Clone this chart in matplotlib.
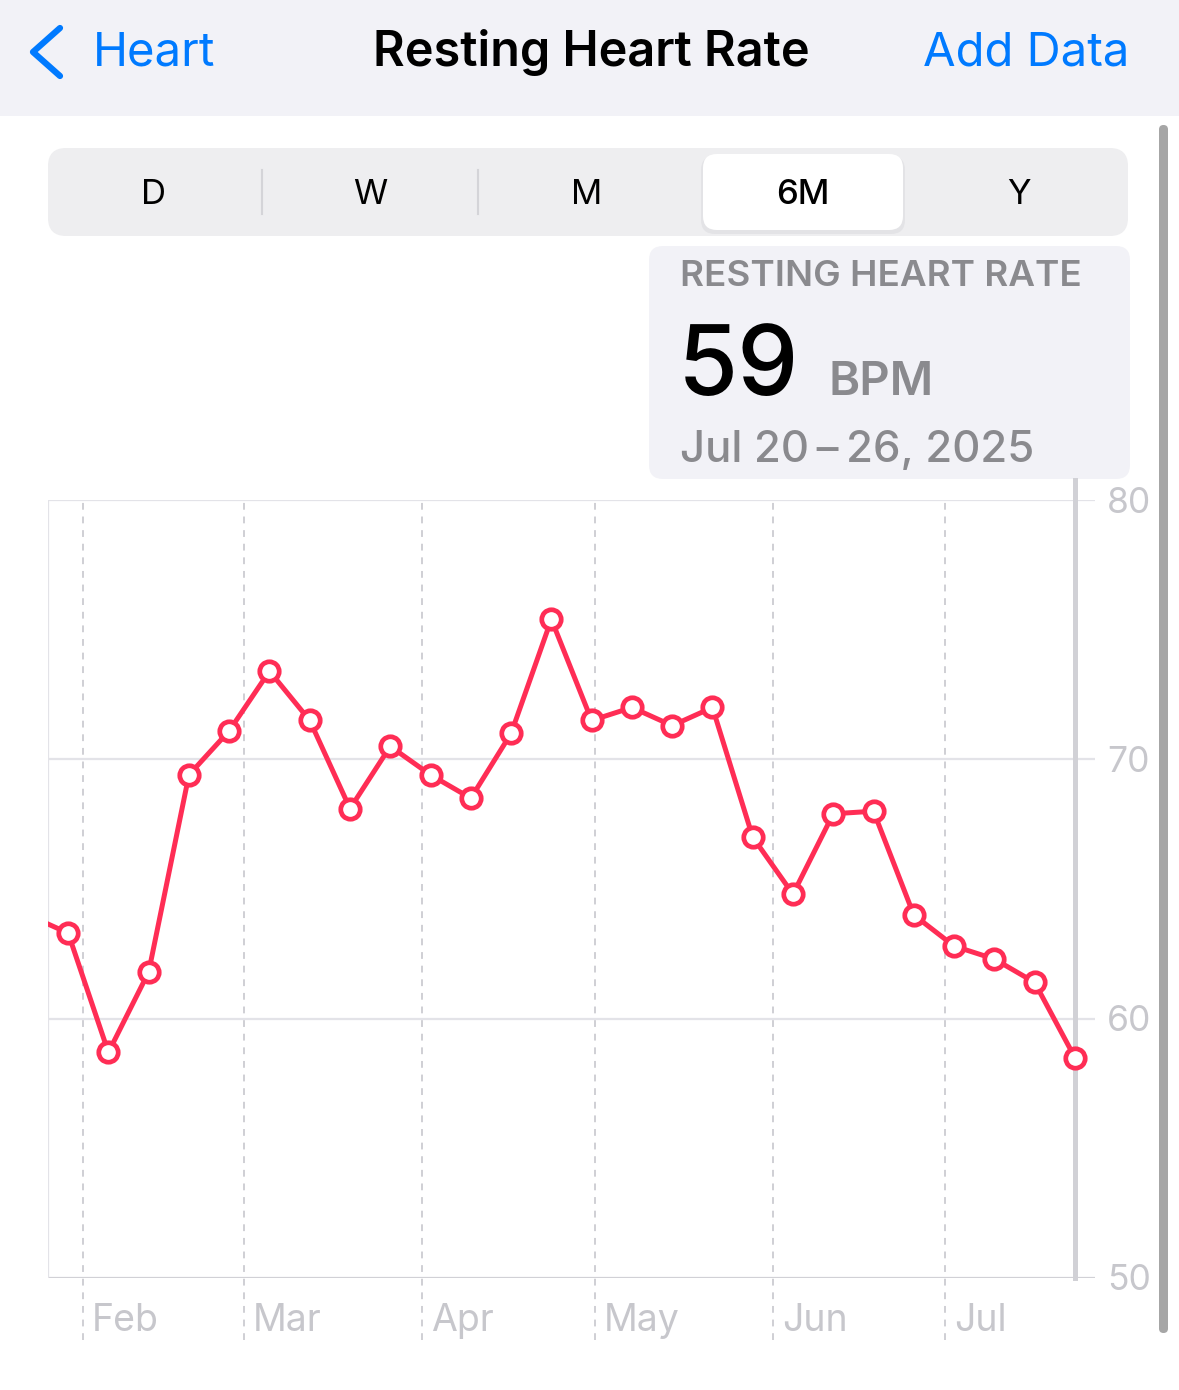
import matplotlib
matplotlib.use("Agg")
import matplotlib.pyplot as plt
import matplotlib.dates as mdates
from matplotlib.patches import FancyBboxPatch, Rectangle
import pandas as pd

# --------------------------
# Data: weekly resting heart rate (week start dates, bpm)
# --------------------------
week_starts = [
    "2025-01-19", "2025-01-26", "2025-02-02", "2025-02-09", "2025-02-16",
    "2025-02-23", "2025-03-02", "2025-03-09", "2025-03-16", "2025-03-23",
    "2025-03-30", "2025-04-06", "2025-04-13", "2025-04-20", "2025-04-27",
    "2025-05-04", "2025-05-11", "2025-05-18", "2025-05-25", "2025-06-01",
    "2025-06-08", "2025-06-15", "2025-06-22", "2025-06-29", "2025-07-06",
    "2025-07-13", "2025-07-20",
]
bpm = [
    64.0, 63.3, 58.7, 61.8, 69.4,
    71.1, 73.4, 71.5, 68.1, 70.5,
    69.4, 68.5, 71.0, 75.4, 71.5,
    72.0, 71.3, 72.0, 67.0, 64.8,
    67.9, 68.0, 64.0, 62.8, 62.3,
    61.4, 58.5,
]
month_starts = ["2025-02-01", "2025-03-01", "2025-04-01", "2025-05-01", "2025-06-01", "2025-07-01"]
month_labels = ["Feb", "Mar", "Apr", "May", "Jun", "Jul"]
y_ticks = [50, 60, 70, 80]
segments = ["D", "W", "M", "6M", "Y"]

PINK = "#ff2d55"
BLUE = "#007aff"
GRAY_TXT = "#8a8a8e"
LIGHT_TXT = "#c7c7cc"
GRID = "#e3e3e8"

plt.rcParams["font.family"] = ["Inter", "DejaVu Sans"]

W, H = 1179, 1390
fig = plt.figure(figsize=(W / 100, H / 100), dpi=100)
fig.patch.set_facecolor("white")

# background axes in pixel coordinates (y goes down)
bg = fig.add_axes([0, 0, 1, 1])
bg.set_xlim(0, W)
bg.set_ylim(H, 0)
bg.axis("off")

# header bar
bg.add_patch(Rectangle((0, 0), W, 116, color="#f2f2f7", lw=0))
bg.plot([60, 33, 60], [28, 52, 76], color=BLUE, lw=4.5, solid_capstyle="round", solid_joinstyle="round")
bg.text(93, 53, "Heart", color=BLUE, fontsize=34, va="center", ha="left")
bg.text(591, 53, "Resting Heart Rate", color="black", fontsize=35, fontweight="semibold", va="center", ha="center")
bg.text(1129, 53, "Add Data", color=BLUE, fontsize=34, va="center", ha="right")

# segmented control
bg.add_patch(FancyBboxPatch((48, 148), 1080, 88, boxstyle="round,pad=0,rounding_size=18",
                            fc="#eeeef0", ec="none"))
bg.add_patch(FancyBboxPatch((701, 156), 204, 78, boxstyle="round,pad=0,rounding_size=14",
                            fc="#dcdce0", ec="none", alpha=0.6))
bg.add_patch(FancyBboxPatch((703, 154), 200, 76, boxstyle="round,pad=0,rounding_size=14",
                            fc="white", ec="none"))
seg_x = [153, 370, 587, 803, 1019]
for sx, s in zip(seg_x, segments):
    bg.text(sx, 195, s, fontsize=25, va="center", ha="center", color="black",
            fontweight="medium" if s == "6M" else "normal")
for sep in [262, 478]:
    bg.plot([sep, sep], [170, 214], color="#d4d4d8", lw=1.5)

# info box
bg.add_patch(FancyBboxPatch((649, 246), 481, 233, boxstyle="round,pad=0,rounding_size=14",
                            fc="#f2f2f7", ec="none"))
bg.text(680, 277, "RESTING HEART RATE", fontsize=26.5, fontweight="semibold", color=GRAY_TXT, va="center", ha="left")
bg.text(678, 395, "59", fontsize=70, fontweight="medium", color="black", va="baseline", ha="left")
bg.text(828, 395, "BPM", fontsize=34, fontweight="semibold", color=GRAY_TXT, va="baseline", ha="left")
bg.text(680, 462, "Jul 20\u2009\u2013\u200926, 2025", fontsize=31.5, fontweight="medium", color=GRAY_TXT,
        va="baseline", ha="left")

# scrollbar
bg.add_patch(FancyBboxPatch((1159, 125), 9, 1208, boxstyle="round,pad=0,rounding_size=4.5",
                            fc="#a6a6a6", ec="none"))

# --------------------------
# Chart axes
# --------------------------
x0, x1, ytop, ybot = 48, 1095, 500, 1278
ax = fig.add_axes([x0 / W, (H - ybot) / H, (x1 - x0) / W, (ybot - ytop) / H])
ax.set_facecolor("none")

mid = pd.to_datetime(week_starts) + pd.Timedelta(days=3.5)
xs = mdates.date2num(mid)
ax.set_xlim(mdates.date2num(pd.Timestamp("2025-01-26")), mdates.date2num(pd.Timestamp("2025-07-27")))
ax.set_ylim(50, 80)

for s in ax.spines.values():
    s.set_visible(False)
ax.set_xticks([])
ax.set_yticks([])

# horizontal grid + left edge
for v in y_ticks:
    ax.axhline(v, color=GRID if v != 50 else "#d1d1d6", lw=1.6, zorder=1)
ax.axvline(ax.get_xlim()[0], color=GRID, lw=1.6, zorder=1)

# month dashed lines & labels
for d, lab in zip(month_starts, month_labels):
    xd = mdates.date2num(pd.Timestamp(d))
    ax.axvline(xd, ymin=-0.08, ymax=1, color="#cfcfd4", lw=1.4, ls=(0, (3.5, 3.5)),
               clip_on=False, zorder=1)
    ax.annotate(lab, (xd, 0), xycoords=("data", "axes fraction"), xytext=(9, -43),
                textcoords="offset pixels", fontsize=27, color=LIGHT_TXT, ha="left", va="center",
                annotation_clip=False)

# y labels at right
for v in y_ticks:
    ax.annotate(str(v), (1, v), xycoords=("axes fraction", "data"), xytext=(12, -3),
                textcoords="offset pixels", fontsize=25.5, color=LIGHT_TXT, ha="left", va="center",
                annotation_clip=False)

# selection line
ax.axvline(xs[-1], ymin=0, ymax=(ybot - 480) / (ybot - ytop), color="#d1d1d6", lw=3.6,
           clip_on=False, zorder=2)

ax.plot(xs, bpm, color=PINK, lw=3.6, marker="o", markersize=14, markerfacecolor="white",
        markeredgecolor=PINK, markeredgewidth=3.4, zorder=5, clip_on=True)

fig.savefig("out.png", dpi=100)
